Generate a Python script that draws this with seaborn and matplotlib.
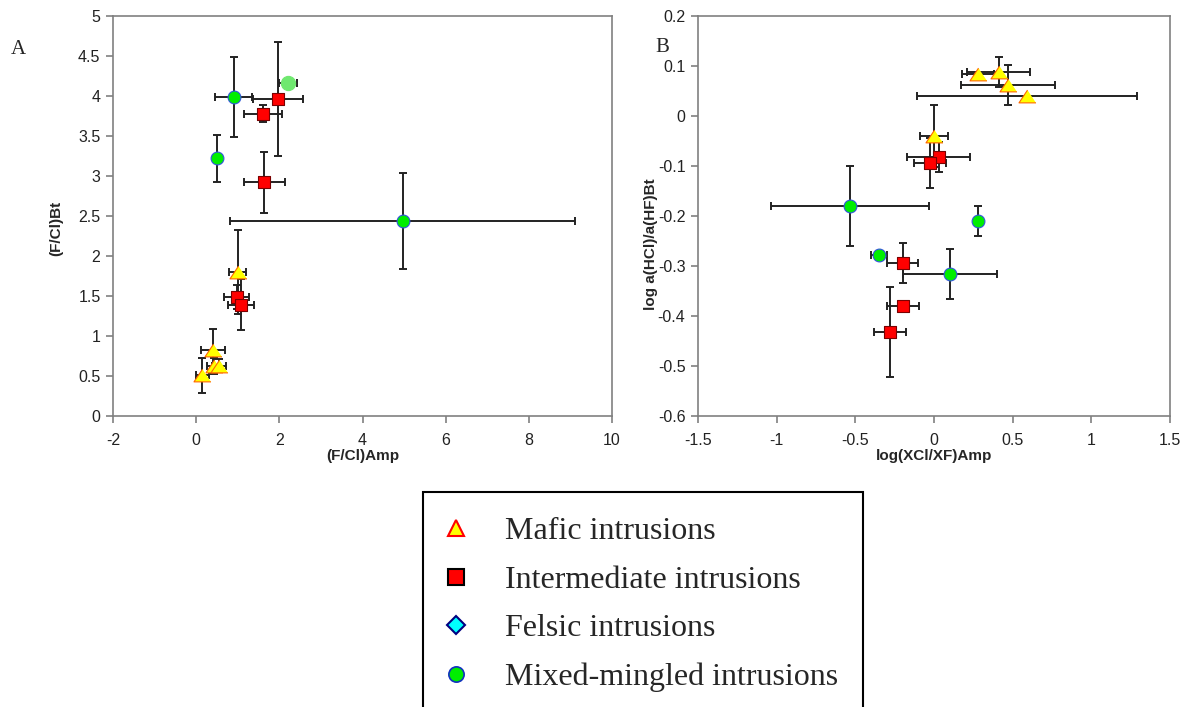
import matplotlib
matplotlib.use("Agg")
import matplotlib.pyplot as plt
import seaborn as sns
from matplotlib.lines import Line2D

# ---- Panel A: (F/Cl)Amp vs (F/Cl)Bt ----
a_mafic_x = [1.00, 0.40, 0.42, 0.55, 0.15]
a_mafic_y = [1.80, 0.82, 0.62, 0.63, 0.51]
a_mafic_xerr = [0.20, 0.29, 0.15, 0.16, 0.15]
a_mafic_yerr = [0.52, 0.27, 0.10, 0.08, 0.22]

a_inter_x = [1.97, 1.61, 1.64, 0.97, 1.08]
a_inter_y = [3.96, 3.78, 2.92, 1.49, 1.39]
a_inter_xerr = [0.60, 0.45, 0.50, 0.31, 0.31]
a_inter_yerr = [0.71, 0.11, 0.38, 0.15, 0.32]

a_mixed_x = [0.90, 0.51, 4.97]
a_mixed_y = [3.99, 3.22, 2.44]
a_mixed_xerr = [0.44, 0.0, 4.15]
a_mixed_yerr = [0.50, 0.29, 0.60]

a_pale_x = [2.21]
a_pale_y = [4.16]
a_pale_xerr = [0.22]
a_pale_yerr = [0.0]

# ---- Panel B: log(XCl/XF)Amp vs log a(HCl)/a(HF)Bt ----
b_mafic_x = [0.28, 0.41, 0.47, 0.59, 0.00]
b_mafic_y = [0.085, 0.089, 0.063, 0.041, -0.039]
b_mafic_xerr = [0.10, 0.20, 0.30, 0.70, 0.09]
b_mafic_yerr = [0.0, 0.03, 0.04, 0.0, 0.062]

b_inter_x = [0.03, -0.025, -0.20, -0.197, -0.28]
b_inter_y = [-0.081, -0.093, -0.294, -0.38, -0.432]
b_inter_xerr = [0.20, 0.10, 0.10, 0.10, 0.10]
b_inter_yerr = [0.03, 0.05, 0.04, 0.0, 0.09]

b_mixed_x = [-0.533, 0.28, -0.35, 0.10]
b_mixed_y = [-0.18, -0.21, -0.278, -0.315]
b_mixed_xerr = [0.50, 0.0, 0.05, 0.30]
b_mixed_yerr = [0.08, 0.03, 0.0, 0.05]

legend_labels = ["Mafic intrusions", "Intermediate intrusions",
                 "Felsic intrusions", "Mixed-mingled intrusions"]

sns.set_style("white")
plt.rcParams['font.family'] = ['Liberation Sans', 'DejaVu Sans']
plt.rcParams['axes.unicode_minus'] = False

tri = [(0, 0.75), (-1, -0.75), (1, -0.75)]

fig = plt.figure(figsize=(11.91, 7.07), dpi=100)
axA = fig.add_axes([113 / 1191, 1 - 416 / 707, 499 / 1191, 400 / 707])
axB = fig.add_axes([698 / 1191, 1 - 416 / 707, 472 / 1191, 400 / 707])


def draw_group(ax, x, y, xerr, yerr, marker, size, face, edge, lw=0.8):
    ax.errorbar(x, y, xerr=xerr, yerr=yerr, fmt='none', ecolor='#222222',
                elinewidth=1.4, capsize=3, capthick=1.4, zorder=2)
    sns.scatterplot(x=x, y=y, ax=ax, marker=marker, s=size, color=face,
                    edgecolor=edge, linewidth=lw, zorder=3, legend=False)


draw_group(axA, a_mafic_x, a_mafic_y, a_mafic_xerr, a_mafic_yerr, tri, 150, '#ffff00', '#ff6600')
draw_group(axA, a_inter_x, a_inter_y, a_inter_xerr, a_inter_yerr, 's', 75, '#ff0000', '#7a0000')
draw_group(axA, a_mixed_x, a_mixed_y, a_mixed_xerr, a_mixed_yerr, 'o', 85, '#00ee00', '#3355dd')
draw_group(axA, a_pale_x, a_pale_y, a_pale_xerr, a_pale_yerr, 'o', 105, '#70e870', '#70e870')

draw_group(axB, b_mafic_x, b_mafic_y, b_mafic_xerr, b_mafic_yerr, tri, 150, '#ffff00', '#ff6600')
draw_group(axB, b_inter_x, b_inter_y, b_inter_xerr, b_inter_yerr, 's', 75, '#ff0000', '#7a0000')
draw_group(axB, b_mixed_x, b_mixed_y, b_mixed_xerr, b_mixed_yerr, 'o', 85, '#00ee00', '#3355dd')

axA.set_xlim(-2, 10)
axA.set_ylim(0, 5)
axA.set_xticks(range(-2, 11, 2))
axA.set_yticks([0, 0.5, 1, 1.5, 2, 2.5, 3, 3.5, 4, 4.5, 5])
axA.set_yticklabels(["0", "0.5", "1", "1.5", "2", "2.5", "3", "3.5", "4", "4.5", "5"])
axA.set_xlabel("(F/Cl)Amp", fontsize=11, fontweight='bold', labelpad=1)
axA.set_ylabel("(F/Cl)Bt", fontsize=11, fontweight='bold')
axA.yaxis.set_label_coords(-0.1, 0.47)

axB.set_xlim(-1.5, 1.5)
axB.set_ylim(-0.6, 0.2)
axB.set_xticks([-1.5, -1, -0.5, 0, 0.5, 1, 1.5])
axB.set_xticklabels(["-1.5", "-1", "-0.5", "0", "0.5", "1", "1.5"])
axB.set_yticks([-0.6, -0.5, -0.4, -0.3, -0.2, -0.1, 0, 0.1, 0.2])
axB.set_yticklabels(["-0.6", "-0.5", "-0.4", "-0.3", "-0.2", "-0.1", "0", "0.1", "0.2"])
axB.set_xlabel("log(XCl/XF)Amp", fontsize=11, fontweight='bold', labelpad=1)
axB.set_ylabel("log a(HCl)/a(HF)Bt", fontsize=11, fontweight='bold')
axB.yaxis.set_label_coords(-0.084, 0.43)

for ax in (axA, axB):
    for sp in ax.spines.values():
        sp.set_color('#808080')
        sp.set_linewidth(1.2)
    ax.tick_params(axis='both', direction='out', length=5, width=1.2,
                   color='#808080', labelsize=11.5, labelcolor='#222222',
                   bottom=True, left=True)
    ax.tick_params(axis='x', pad=7)
    ax.tick_params(axis='y', pad=4)

fig.text(18 / 1191, 1 - 50 / 707, "A", fontsize=15, family='Liberation Serif',
         ha='center', va='center')
fig.text(662 / 1191, 1 - 47 / 707, "B", fontsize=15, family='Liberation Serif',
         ha='center', va='center')

handles = [
    Line2D([], [], linestyle='none', marker='^', markersize=12,
           markerfacecolor='#ffff00', markeredgecolor='#ff0000', markeredgewidth=1.5),
    Line2D([], [], linestyle='none', marker='s', markersize=11,
           markerfacecolor='#ff0000', markeredgecolor='#000000', markeredgewidth=1.5),
    Line2D([], [], linestyle='none', marker='D', markersize=9,
           markerfacecolor='#00ffff', markeredgecolor='#000080', markeredgewidth=1.5),
    Line2D([], [], linestyle='none', marker='o', markersize=11,
           markerfacecolor='#00ee00', markeredgecolor='#1030c0', markeredgewidth=1.2),
]
leg = fig.legend(handles, legend_labels, loc='upper left',
                 bbox_to_anchor=(423 / 1191, 1 - 492 / 707), borderaxespad=0,
                 prop={'family': 'Liberation Serif', 'size': 23},
                 frameon=True, fancybox=False, handlelength=0.5,
                 handletextpad=1.28, borderpad=0.78, labelspacing=0.6)
leg.get_frame().set_edgecolor('#000000')
leg.get_frame().set_linewidth(1.5)
leg.get_frame().set_alpha(1)

fig.savefig("out.png", dpi=100)
